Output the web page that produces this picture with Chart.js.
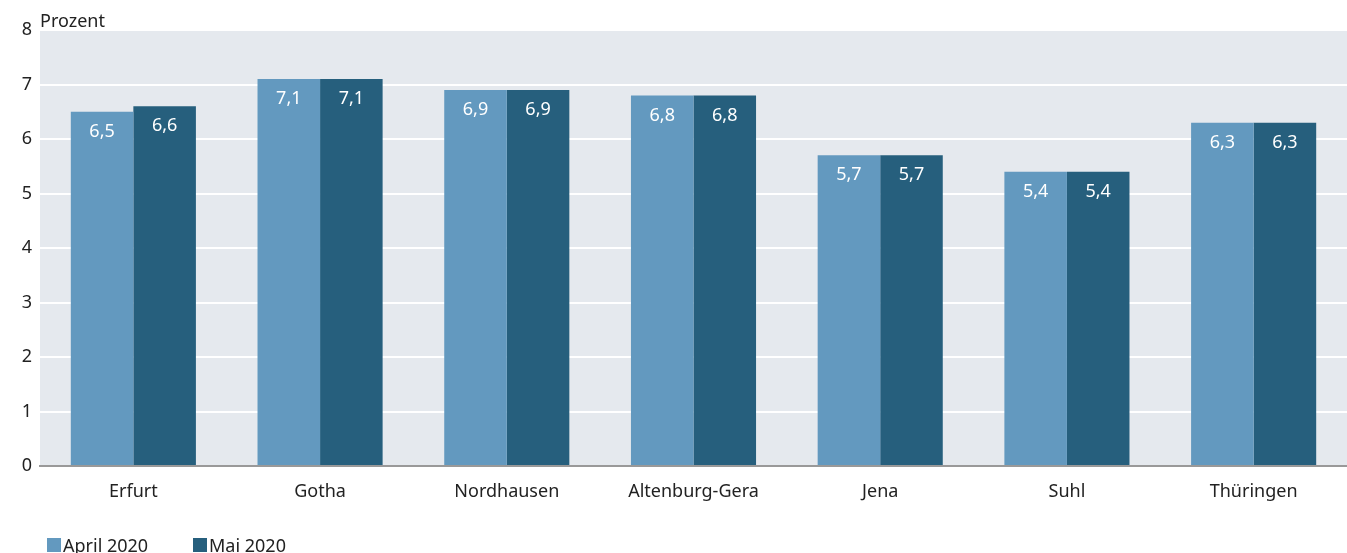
<!DOCTYPE html>
<html><head><meta charset="utf-8">
<script src="https://cdn.jsdelivr.net/npm/chart.js@4/dist/chart.umd.min.js"></script>
<style>html,body{margin:0;padding:0;background:#fff}#wrap{width:1347px;height:553px}</style>
</head><body><div id="wrap"><canvas id="c"></canvas></div>
<script>
const categories = ["Erfurt","Gotha","Nordhausen","Altenburg-Gera","Jena","Suhl","Thüringen"];
const april2020 = [6.5,7.1,6.9,6.8,5.7,5.4,6.3];
const mai2020 = [6.6,7.1,6.9,6.8,5.7,5.4,6.3];
const seriesNames = ["April 2020","Mai 2020"];
const seriesColors = ['#6399bf','#265f7d'];
const yTicks = [0,1,2,3,4,5,6,7,8];
const FONT = "'Noto Sans', sans-serif";
const FS = 18;

const bgPlugin = {
  id:'bg',
  beforeDraw(chart){
    const {ctx, chartArea:a} = chart;
    ctx.save();
    ctx.fillStyle = '#e5e9ee';
    ctx.fillRect(a.left, a.top, chart.width - a.left, a.bottom - a.top);
    ctx.fillStyle = '#222';
    ctx.font = FS + "px " + FONT;
    ctx.textBaseline = 'alphabetic';
    ctx.textAlign = 'left';
    ctx.fillText('Prozent', a.left, a.top - 3);
    ctx.restore();
  }
};
const labelPlugin = {
  id:'vals',
  afterDatasetsDraw(chart){
    const ctx = chart.ctx;
    ctx.save();
    ctx.fillStyle = '#ffffff';
    ctx.font = FS + "px " + FONT;
    ctx.textAlign = 'center';
    ctx.textBaseline = 'middle';
    chart.data.datasets.forEach((ds, i) => {
      chart.getDatasetMeta(i).data.forEach((bar, j) => {
        ctx.fillText(String(ds.data[j]).replace('.', ','), bar.x, bar.y + 20);
      });
    });
    ctx.restore();
  }
};
const legendPlugin = {
  id:'customLegend',
  afterDraw(chart){
    const ctx = chart.ctx;
    ctx.save();
    ctx.font = FS + "px " + FONT;
    ctx.textBaseline = 'alphabetic';
    ctx.textAlign = 'left';
    const xs = [47, 193];
    const y = 538;
    chart.data.datasets.forEach((ds, i) => {
      ctx.fillStyle = ds.backgroundColor;
      ctx.fillRect(xs[i], y, 14, 14);
      ctx.fillStyle = '#222';
      ctx.fillText(ds.label, xs[i] + 16, y + 14);
    });
    ctx.restore();
  }
};

new Chart(document.getElementById('c'), {
  type:'bar',
  data:{
    labels: categories,
    datasets:[
      {label: seriesNames[0], data: april2020, backgroundColor: seriesColors[0]},
      {label: seriesNames[1], data: mai2020, backgroundColor: seriesColors[1]}
    ]
  },
  options:{
    responsive:true, maintainAspectRatio:false, animation:false,
    devicePixelRatio:1,
    layout:{padding:{top:30,right:0,left:0,bottom:47}},
    datasets:{bar:{categoryPercentage:0.67, barPercentage:1}},
    plugins:{
      legend:{display:false},
      tooltip:{enabled:false}
    },
    scales:{
      x:{
        grid:{display:false},
        border:{color:'#999999', width:2},
        ticks:{color:'#222', font:{family:FONT, size:FS}, padding:7},
        afterFit(s){ s.height = 40; }
      },
      y:{
        min:0, max:8,
        afterBuildTicks(s){ s.ticks = yTicks.map(v=>({value:v})); },
        grid:{color:'#ffffff', lineWidth:2, drawTicks:false},
        border:{display:false},
        ticks:{color:'#222', font:{family:FONT, size:FS}, padding:8},
        afterFit(s){ s.width = 40; }
      }
    }
  },
  plugins:[bgPlugin, labelPlugin, legendPlugin]
});
</script></body></html>
